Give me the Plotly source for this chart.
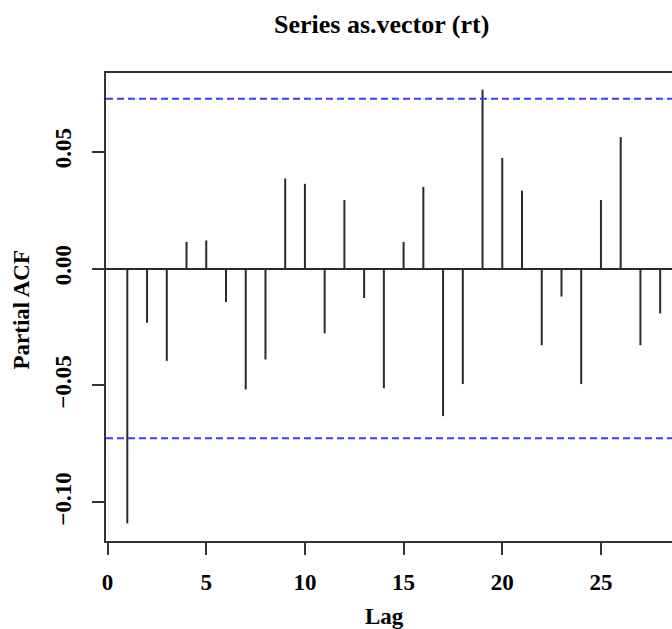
import plotly.graph_objects as go

# ---- data ----
lags = list(range(1, 29))
pacf = [-0.109, -0.0232, -0.0395, 0.0114, 0.0120, -0.0143, -0.0517, -0.0389,
        0.0385, 0.0362, -0.0277, 0.0293, -0.0126, -0.0512, 0.0114, 0.0349,
        -0.0631, -0.0494, 0.0765, 0.0473, 0.0333, -0.0328, -0.0120, -0.0494,
        0.0293, 0.0562, -0.0328, -0.0192]
conf_limit = 0.0726
x_tick_vals = [0, 5, 10, 15, 20, 25]
x_tick_text = ["0", "5", "10", "15", "20", "25"]
y_tick_vals = [-0.10, -0.05, 0.00, 0.05]
y_tick_text = ["\u22120.10", "\u22120.05", "0.00", "0.05"]
title_text = "Series as.vector (rt)"
x_label = "Lag"
y_label = "Partial ACF"

FONT = "Liberation Serif"

# build vertical spikes
sx, sy = [], []
for l, v in zip(lags, pacf):
    sx += [l, l, None]
    sy += [0, v, None]

fig = go.Figure()
fig.add_trace(go.Scatter(x=sx, y=sy, mode="lines",
                         line=dict(color="#2a2a2a", width=2),
                         hoverinfo="skip", showlegend=False))
xr = [-0.08, 28.6]
for c in (conf_limit, -conf_limit):
    fig.add_trace(go.Scatter(x=xr, y=[c, c], mode="lines",
                             line=dict(color="#3b3bff", width=2, dash="7px,4px"),
                             hoverinfo="skip", showlegend=False))

fig.update_layout(
    width=672, height=629,
    margin=dict(l=106, r=0, t=73, b=88),
    paper_bgcolor="white", plot_bgcolor="white",
    font=dict(family=FONT, size=23, color="black", weight="bold"),
    xaxis=dict(range=xr, showgrid=False, zeroline=False,
               showline=True, linecolor="#333333", linewidth=2, mirror=True,
               ticks="outside", ticklen=12, tickwidth=2, tickcolor="#333333",
               tickvals=x_tick_vals, ticktext=x_tick_text,
               tickfont=dict(family=FONT, size=23, weight="bold"),
               ticklabelstandoff=7),
    yaxis=dict(range=[-0.1165, 0.0836], showgrid=False,
               zeroline=True, zerolinecolor="#2a2a2a", zerolinewidth=2,
               showline=True, linecolor="#333333", linewidth=2,
               ticks="outside", ticklen=12, tickwidth=2, tickcolor="#333333",
               tickvals=y_tick_vals, ticktext=y_tick_text, tickangle=-90,
               tickfont=dict(family=FONT, size=23, weight="bold"),
               ticklabelstandoff=12),
    annotations=[
        dict(text=title_text, xref="paper", yref="paper", x=0.486, y=1.103,
             xanchor="center", yanchor="middle", showarrow=False,
             font=dict(family=FONT, size=26, weight="bold")),
        dict(text=x_label, xref="paper", yref="paper", x=0.492, y=-0.162,
             xanchor="center", yanchor="middle", showarrow=False,
             font=dict(family=FONT, size=23, weight="bold")),
        dict(text=y_label, xref="paper", yref="paper", x=-0.149, y=0.494,
             xanchor="center", yanchor="middle", showarrow=False, textangle=-90,
             font=dict(family=FONT, size=23, weight="bold")),
    ],
)

fig.write_html("out.html")
